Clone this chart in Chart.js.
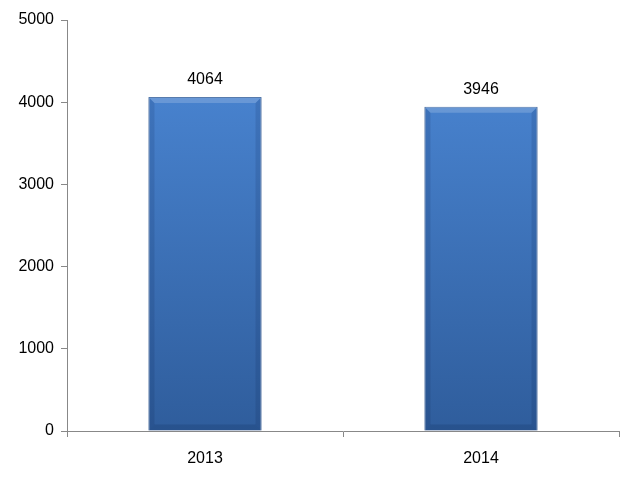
<!DOCTYPE html>
<html>
<head>
<meta charset="utf-8">
<script src="https://cdn.jsdelivr.net/npm/chart.js@4"></script>
<style>
  html, body { margin: 0; padding: 0; background: #fff; }
  #wrap { width: 640px; height: 478px; }
</style>
</head>
<body>
<div id="wrap"><canvas id="myChart" width="640" height="478"></canvas></div>
<script>
const years = ['2013', '2014'];
const counts = [4064, 3946];
const yTicks = [0, 1000, 2000, 3000, 4000, 5000];

const FONT = '"Liberation Sans", sans-serif';

// value labels above each bar, plus a light bevel on the bar edges
const valueLabels = {
    id: 'valueLabels',
    afterDatasetsDraw(chart) {
        const ctx = chart.ctx;
        const meta = chart.getDatasetMeta(0);
        ctx.save();
        meta.data.forEach((bar) => {
            const l = bar.x - bar.width / 2, r = bar.x + bar.width / 2;
            const t = bar.y, b = bar.base;
            const bw = 6;
            // top bevel (lighter)
            ctx.fillStyle = 'rgba(255,255,255,0.18)';
            ctx.beginPath();
            ctx.moveTo(l, t); ctx.lineTo(r, t); ctx.lineTo(r - bw, t + bw); ctx.lineTo(l + bw, t + bw);
            ctx.closePath(); ctx.fill();
            // side bevels (darker)
            ctx.fillStyle = 'rgba(0,20,60,0.12)';
            ctx.beginPath();
            ctx.moveTo(l, t); ctx.lineTo(l + bw, t + bw); ctx.lineTo(l + bw, b - bw); ctx.lineTo(l, b);
            ctx.closePath(); ctx.fill();
            ctx.beginPath();
            ctx.moveTo(r, t); ctx.lineTo(r - bw, t + bw); ctx.lineTo(r - bw, b - bw); ctx.lineTo(r, b);
            ctx.closePath(); ctx.fill();
            // bottom bevel
            ctx.fillStyle = 'rgba(0,20,60,0.15)';
            ctx.beginPath();
            ctx.moveTo(l, b); ctx.lineTo(l + bw, b - bw); ctx.lineTo(r - bw, b - bw); ctx.lineTo(r, b);
            ctx.closePath(); ctx.fill();
        });
        ctx.font = '16px ' + FONT;
        ctx.fillStyle = '#000';
        ctx.textAlign = 'center';
        ctx.textBaseline = 'bottom';
        meta.data.forEach((bar, i) => {
            ctx.fillText(String(counts[i]), bar.x, bar.y - 9);
        });
        ctx.restore();
    }
};

function barFill(context) {
    const area = context.chart.chartArea;
    if (!area) return '#4178c4';
    const g = context.chart.ctx.createLinearGradient(0, area.top, 0, area.bottom);
    g.addColorStop(0, '#4d8ad9');
    g.addColorStop(1, '#2f5d9c');
    return g;
}

const data = {
    labels: years,
    datasets: [{
        label: 'Count',
        data: counts,
        backgroundColor: barFill,
        borderColor: '#325f9c',
        borderWidth: 1,
        barPercentage: 0.41,
        categoryPercentage: 1.0,
    }]
};

const config = {
    type: 'bar',
    data: data,
    options: {
        responsive: false,
        animation: false,
        layout: { padding: { top: 20, right: 21, left: 0, bottom: 0 } },
        plugins: {
            legend: { display: false },
            tooltip: { enabled: false }
        },
        scales: {
            x: {
                offset: true,
                grid: {
                    offset: true,
                    drawOnChartArea: false,
                    tickLength: 6,
                    color: '#888'
                },
                border: { color: '#888' },
                ticks: {
                    color: '#000',
                    padding: 12,
                    font: { family: FONT, size: 16 }
                },
                afterFit(scale) { scale.height = 47; }
            },
            y: {
                min: 0,
                max: 5000,
                afterBuildTicks(scale) {
                    scale.ticks = yTicks.map(v => ({ value: v }));
                },
                grid: {
                    drawOnChartArea: false,
                    tickLength: 6,
                    color: '#888'
                },
                border: { color: '#888' },
                ticks: {
                    color: '#000',
                    padding: 7,
                    font: { family: FONT, size: 16 },
                    callback: (v) => String(v)
                },
                afterFit(scale) { scale.width = 67; }
            }
        }
    },
    plugins: [valueLabels]
};

new Chart(
    document.getElementById('myChart'),
    config
);
</script>
</body>
</html>
